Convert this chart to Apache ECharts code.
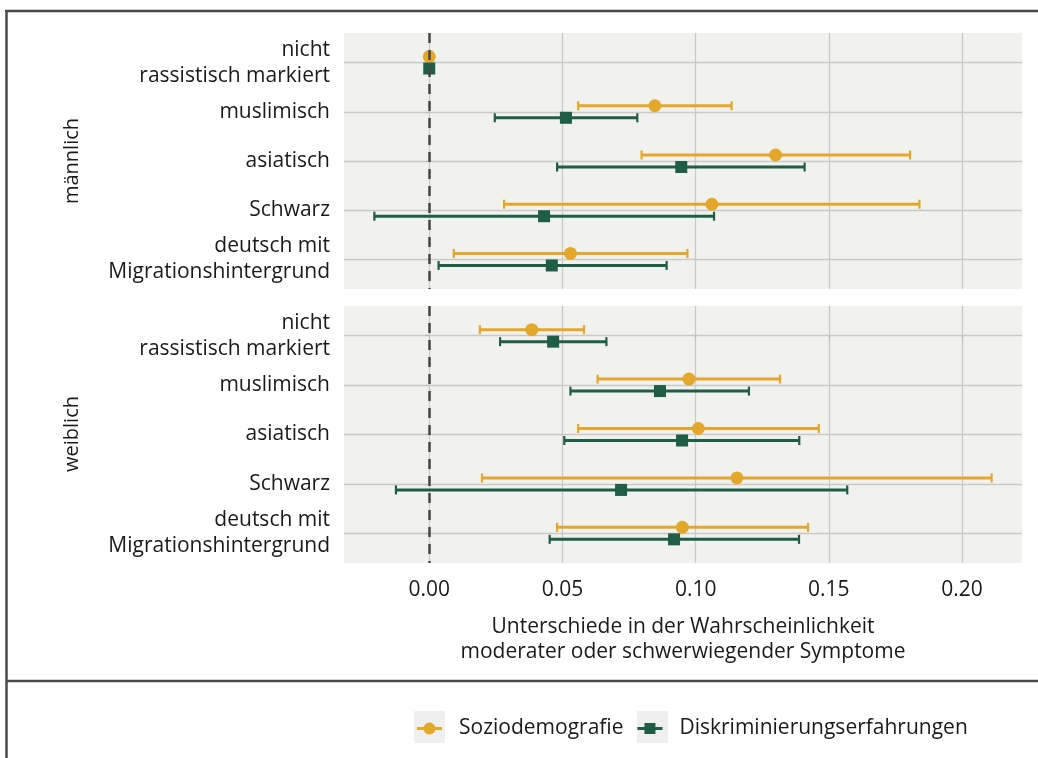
<!DOCTYPE html>
<html>
<head>
<meta charset="utf-8">
<script src="https://cdn.jsdelivr.net/npm/echarts@6/dist/echarts.min.js"></script>
<style>
html,body{margin:0;padding:0;background:#fff;}
#chart{width:1038px;height:758px;}
</style>
</head>
<body>
<div id="chart"></div>
<script>
// ---- Data ----
const categories = ['nicht\nrassistisch markiert', 'muslimisch', 'asiatisch', 'Schwarz', 'deutsch mit\nMigrationshintergrund'];
const panels = ['männlich', 'weiblich'];
const seriesNames = ['Soziodemografie', 'Diskriminierungserfahrungen'];
const xTicks = [0, 0.05, 0.10, 0.15, 0.20];

// männlich
const mSozioVal = [0, 0.0847, 0.1300, 0.1061, 0.0530];
const mSozioLo  = [null, 0.0559, 0.0797, 0.0281, 0.0092];
const mSozioHi  = [null, 0.1135, 0.1805, 0.1840, 0.0969];
const mDiskVal  = [0, 0.0513, 0.0946, 0.0431, 0.0460];
const mDiskLo   = [null, 0.0246, 0.0480, -0.0206, 0.0035];
const mDiskHi   = [null, 0.0781, 0.1409, 0.1069, 0.0891];
// weiblich
const wSozioVal = [0.0385, 0.0975, 0.1010, 0.1155, 0.0950];
const wSozioLo  = [0.0190, 0.0632, 0.0559, 0.0198, 0.0480];
const wSozioHi  = [0.0581, 0.1317, 0.1462, 0.2111, 0.1422];
const wDiskVal  = [0.0465, 0.0866, 0.0949, 0.0720, 0.0919];
const wDiskLo   = [0.0266, 0.0530, 0.0507, -0.0125, 0.0452];
const wDiskHi   = [0.0665, 0.1200, 0.1389, 0.1569, 0.1388];

// ---- Style ----
const ORANGE = '#e3a82b';
const GREEN = '#1f5d45';
const FONT = '"Open Sans", "Noto Sans", sans-serif';
const TXT = '#1a1a1a';
const GRIDC = '#c9c9c9';
const FS = 21;

function build(vals, lo, hi) {
  return vals.map((v, i) => [i, v, lo[i] == null ? '-' : lo[i], hi[i] == null ? '-' : hi[i]]);
}

function makeRender(color, offset, shape) {
  return function (params, api) {
    const cat = api.value(0), v = api.value(1), lo = api.value(2), hi = api.value(3);
    const p = api.coord([v, cat]);
    const py = p[1] + offset;
    const children = [];
    if (isFinite(lo) && isFinite(hi)) {
      const a = api.coord([lo, cat])[0], b = api.coord([hi, cat])[0];
      children.push({type: 'line', shape: {x1: a, y1: py, x2: b, y2: py}, style: {stroke: color, lineWidth: 3}});
      children.push({type: 'line', shape: {x1: a, y1: py - 4.5, x2: a, y2: py + 4.5}, style: {stroke: color, lineWidth: 2.2}});
      children.push({type: 'line', shape: {x1: b, y1: py - 4.5, x2: b, y2: py + 4.5}, style: {stroke: color, lineWidth: 2.2}});
    }
    if (shape === 'circle') {
      children.push({type: 'circle', shape: {cx: p[0], cy: py, r: 6.5}, style: {fill: color}});
    } else {
      children.push({type: 'rect', shape: {x: p[0] - 6, y: py - 6, width: 12, height: 12}, style: {fill: color}});
    }
    return {type: 'group', children: children};
  };
}

const gridDefs = [
  {left: 344, top: 33, width: 678, height: 256},
  {left: 344, top: 306, width: 678, height: 257}
];

const xAxes = gridDefs.map((g, i) => ({
  type: 'value', gridIndex: i, min: -0.032, max: 0.2225,
  axisLine: {show: false},
  axisTick: {show: i === 1, customValues: xTicks, length: 4, lineStyle: {color: '#bdbdbd', width: 1.2}},
  axisLabel: {show: i === 1, customValues: xTicks, formatter: v => v.toFixed(2), fontFamily: FONT, fontSize: FS, color: TXT, margin: 17},
  splitLine: {show: true, lineStyle: {color: GRIDC, width: 1.3}},
  name: i === 1 ? 'Unterschiede in der Wahrscheinlichkeit\nmoderater oder schwerwiegender Symptome' : '',
  nameLocation: 'middle', nameGap: 52,
  nameTextStyle: {fontFamily: FONT, fontSize: FS, color: TXT, lineHeight: 25}
}));

const catIdx = categories.map((c, i) => i);
const yAxes = gridDefs.map((g, i) => ({
  type: 'value', gridIndex: i, inverse: true, min: -0.6, max: 4.6,
  axisLine: {show: false},
  axisTick: {show: true, customValues: catIdx, length: 4, lineStyle: {color: '#bdbdbd', width: 1.2}},
  axisLabel: {customValues: catIdx, formatter: v => categories[Math.round(v)], fontFamily: FONT, fontSize: FS, color: TXT, lineHeight: 26, margin: 14, align: 'right'},
  splitLine: {show: true, lineStyle: {color: GRIDC, width: 1.3}}
}));

const series = [];
const panelData = [
  [build(mSozioVal, mSozioLo, mSozioHi), build(mDiskVal, mDiskLo, mDiskHi)],
  [build(wSozioVal, wSozioLo, wSozioHi), build(wDiskVal, wDiskLo, wDiskHi)]
];
panelData.forEach((pd, i) => {
  series.push({
    type: 'line', xAxisIndex: i, yAxisIndex: i, data: [], silent: true, z: 1,
    markLine: {symbol: 'none', silent: true, label: {show: false},
      lineStyle: {color: '#454545', width: 2.5, type: [10, 7]},
      data: [{xAxis: 0}], animation: false}
  });
  series.push({
    type: 'custom', name: seriesNames[0], xAxisIndex: i, yAxisIndex: i, z: 3,
    encode: {x: 1, y: 0}, data: pd[0], renderItem: makeRender(ORANGE, -6, 'circle'), itemStyle: {color: ORANGE}
  });
  series.push({
    type: 'custom', name: seriesNames[1], xAxisIndex: i, yAxisIndex: i, z: 4,
    encode: {x: 1, y: 0}, data: pd[1], renderItem: makeRender(GREEN, 6, 'square'), itemStyle: {color: GREEN}
  });
});

const iconCircle = 'path://M0,9H25V12H0Z M6.5,10.5a6,6 0 1,1 12,0a6,6 0 1,1 -12,0Z';
const iconSquare = 'path://M0,9H25V12H0Z M7,5H18V16H7Z';

const chart = echarts.init(document.getElementById('chart'), null, {renderer: 'canvas'});
chart.setOption({
  animation: false,
  backgroundColor: '#ffffff',
  grid: gridDefs.map(g => Object.assign({show: true, backgroundColor: '#f1f2ee', borderWidth: 0, containLabel: false}, g)),
  xAxis: xAxes,
  yAxis: yAxes,
  legend: {
    left: 412, top: 713, itemWidth: 25, itemHeight: 12, itemGap: 14,
    data: [{name: seriesNames[0], icon: iconCircle, itemStyle: {color: ORANGE}},
           {name: seriesNames[1], icon: iconSquare, itemStyle: {color: GREEN}}],
    textStyle: {fontFamily: FONT, fontSize: FS, color: TXT, padding: [0, 0, 0, 12]},
    selectedMode: false
  },
  graphic: [
    {type: 'rect', shape: {x: 414, y: 711, width: 31, height: 32}, style: {fill: '#efefef'}, z: -1},
    {type: 'rect', shape: {x: 637, y: 711, width: 31, height: 32}, style: {fill: '#efefef'}, z: -1},
    {type: 'line', shape: {x1: 5, y1: 11, x2: 1038, y2: 11}, style: {stroke: '#4a4a4a', lineWidth: 2.5}},
    {type: 'line', shape: {x1: 6.5, y1: 10, x2: 6.5, y2: 758}, style: {stroke: '#4a4a4a', lineWidth: 2.5}},
    {type: 'line', shape: {x1: 6, y1: 681, x2: 1038, y2: 681}, style: {stroke: '#4a4a4a', lineWidth: 2.5}},
    {type: 'text', x: 72, y: 161, rotation: Math.PI / 2,
     style: {text: panels[0], fontFamily: FONT, fontSize: 20, fill: TXT, textAlign: 'center', textVerticalAlign: 'middle'}},
    {type: 'text', x: 72, y: 434, rotation: Math.PI / 2,
     style: {text: panels[1], fontFamily: FONT, fontSize: 20, fill: TXT, textAlign: 'center', textVerticalAlign: 'middle'}}
  ],
  series: series
});
</script>
</body>
</html>
